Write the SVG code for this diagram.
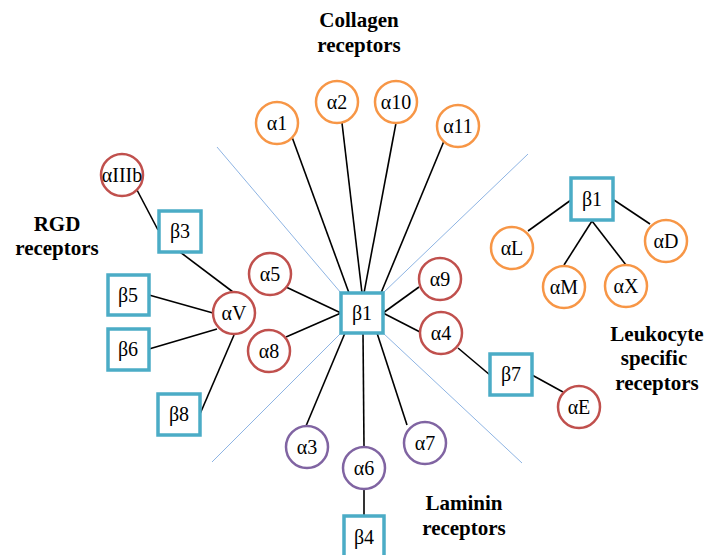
<svg xmlns="http://www.w3.org/2000/svg" width="707" height="555" viewBox="0 0 707 555">
<style>
.o{fill:#fff;stroke:#F79646;stroke-width:2.5}
.r{fill:#fff;stroke:#C0504D;stroke-width:2.5}
.p{fill:#fff;stroke:#8064A2;stroke-width:2.5}
.b{fill:#fff;stroke:#4BACC6;stroke-width:3.5}
.t{font-size:20px;fill:#000;text-anchor:middle;dominant-baseline:central}
.h{font-size:21px;font-weight:bold;fill:#000;text-anchor:middle}
.c{stroke:#000;stroke-width:1.6;fill:none}
.d{stroke:#8EB4E3;stroke-width:1;fill:none}
</style>
<g id="dividers">
<line class="d" x1="217" y1="147" x2="341" y2="293"/>
<line class="d" x1="528" y1="154" x2="383" y2="293"/>
<line class="d" x1="212" y1="462" x2="341" y2="333"/>
<line class="d" x1="522" y1="463" x2="383" y2="333"/>
</g>
<g id="connectors">
<line class="c" x1="292" y1="137" x2="349" y2="293"/>
<line class="c" x1="342" y1="123" x2="362" y2="293"/>
<line class="c" x1="396" y1="123" x2="364" y2="293"/>
<line class="c" x1="444" y1="141" x2="381" y2="293"/>
<line class="c" x1="286" y1="287" x2="341" y2="313"/>
<line class="c" x1="286" y1="337" x2="341" y2="313"/>
<line class="c" x1="419" y1="287" x2="383" y2="313"/>
<line class="c" x1="420" y1="332" x2="383" y2="313"/>
<line class="c" x1="345" y1="333" x2="306" y2="426"/>
<line class="c" x1="363" y1="333" x2="364" y2="446"/>
<line class="c" x1="377" y1="333" x2="407" y2="425"/>
<line class="c" x1="364" y1="490" x2="364" y2="516"/>
<line class="c" x1="137" y1="190" x2="158" y2="230"/>
<line class="c" x1="180" y1="252" x2="233" y2="292"/>
<line class="c" x1="149" y1="295" x2="213" y2="313"/>
<line class="c" x1="149" y1="349" x2="217" y2="329"/>
<line class="c" x1="200" y1="414" x2="234" y2="335"/>
<line class="c" x1="458" y1="348" x2="490" y2="375"/>
<line class="c" x1="532" y1="375" x2="563" y2="392"/>
<line class="c" x1="571" y1="200" x2="528" y2="231"/>
<line class="c" x1="614" y1="200" x2="650" y2="224"/>
<line class="c" x1="592" y1="221" x2="564" y2="265"/>
<line class="c" x1="592" y1="221" x2="626" y2="265"/>
</g>
<g font-family="Liberation Serif, DejaVu Serif, Times New Roman, serif">
<g id="n-a1"><circle class="o" cx="277" cy="123" r="21"/><text class="t" x="277" y="123">α1</text></g>
<g id="n-a2"><circle class="o" cx="337" cy="102" r="21"/><text class="t" x="337" y="102">α2</text></g>
<g id="n-a10"><circle class="o" cx="396" cy="102" r="21"/><text class="t" x="396" y="102">α10</text></g>
<g id="n-a11"><circle class="o" cx="458" cy="126" r="21"/><text class="t" x="458" y="126">α11</text></g>
<g id="n-aIIb"><circle class="r" cx="122" cy="175" r="21"/><text class="t" x="122" y="175">αIIIb</text></g>
<g id="n-b3"><rect class="b" x="159" y="211" width="42" height="41"/><text class="t" x="180" y="231">β3</text></g>
<g id="n-aV"><circle class="r" cx="234" cy="313" r="21"/><text class="t" x="234" y="313">αV</text></g>
<g id="n-b5"><rect class="b" x="108" y="275" width="41" height="40"/><text class="t" x="128" y="295">β5</text></g>
<g id="n-b6"><rect class="b" x="108" y="329" width="41" height="41"/><text class="t" x="128" y="349">β6</text></g>
<g id="n-b8"><rect class="b" x="158" y="394" width="42" height="41"/><text class="t" x="179" y="414">β8</text></g>
<g id="n-a5"><circle class="r" cx="270" cy="274" r="21"/><text class="t" x="270" y="274">α5</text></g>
<g id="n-a8"><circle class="r" cx="269" cy="351" r="21"/><text class="t" x="269" y="351">α8</text></g>
<g id="n-b1"><rect class="b" x="341" y="293" width="42" height="40"/><text class="t" x="362" y="313">β1</text></g>
<g id="n-a9"><circle class="r" cx="440" cy="279" r="21"/><text class="t" x="440" y="279">α9</text></g>
<g id="n-a4"><circle class="r" cx="441" cy="333" r="21"/><text class="t" x="441" y="333">α4</text></g>
<g id="n-b7"><rect class="b" x="490" y="354" width="42" height="41"/><text class="t" x="511" y="374">β7</text></g>
<g id="n-aE"><circle class="r" cx="579" cy="407" r="21"/><text class="t" x="579" y="407">αE</text></g>
<g id="n-a3"><circle class="p" cx="307" cy="447" r="21"/><text class="t" x="307" y="447">α3</text></g>
<g id="n-a6"><circle class="p" cx="364" cy="468" r="21"/><text class="t" x="364" y="468">α6</text></g>
<g id="n-a7"><circle class="p" cx="425" cy="443" r="21"/><text class="t" x="425" y="443">α7</text></g>
<g id="n-b4"><rect class="b" x="344" y="516" width="40" height="42"/><text class="t" x="364" y="537">β4</text></g>
<g id="n-lb1"><rect class="b" x="571" y="178" width="42" height="42"/><text class="t" x="592" y="199">β1</text></g>
<g id="n-aL"><circle class="o" cx="512" cy="248" r="21"/><text class="t" x="512" y="248">αL</text></g>
<g id="n-aD"><circle class="o" cx="666" cy="241" r="21"/><text class="t" x="666" y="241">αD</text></g>
<g id="n-aM"><circle class="o" cx="564" cy="287" r="21"/><text class="t" x="564" y="287">αM</text></g>
<g id="n-aX"><circle class="o" cx="626" cy="286" r="21"/><text class="t" x="626" y="286">αX</text></g>
<g id="labels">
<text class="h" x="359" y="27">Collagen</text>
<text class="h" x="359" y="52">receptors</text>
<text class="h" x="57" y="231">RGD</text>
<text class="h" x="57" y="255">receptors</text>
<text class="h" x="464" y="510">Laminin</text>
<text class="h" x="464" y="535">receptors</text>
<text class="h" x="657" y="341">Leukocyte</text>
<text class="h" x="654" y="365">specific</text>
<text class="h" x="657" y="390">receptors</text>
</g>
</g>
</svg>
